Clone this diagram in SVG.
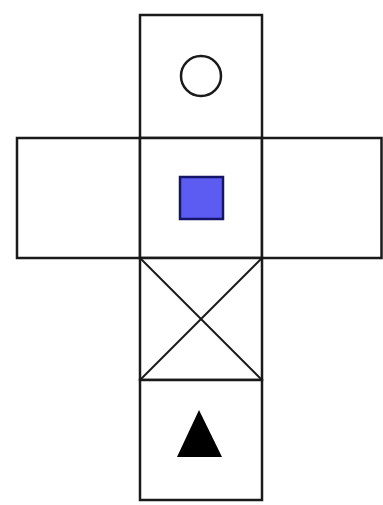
<svg xmlns="http://www.w3.org/2000/svg" width="383" height="505" viewBox="0 0 383 505">
<style>
.f{fill:#fff;stroke:#1a1a1a;stroke-width:2.5}
.l{stroke:#1a1a1a;stroke-width:2;fill:none}
</style>
<rect width="383" height="505" fill="#fff"/>
<g id="top"><rect class="f" x="140" y="15" width="122" height="123"/><circle cx="201" cy="76" r="20" fill="#fff" stroke="#1a1a1a" stroke-width="2.5"/></g>
<g id="left"><rect class="f" x="17" y="138" width="123" height="120"/></g>
<g id="center"><rect class="f" x="140" y="138" width="122" height="120"/><rect x="180" y="177" width="43" height="42" fill="#5c5cf2" stroke="#15156a" stroke-width="2.5"/></g>
<g id="right"><rect class="f" x="262" y="138" width="119.5" height="120"/></g>
<g id="cross"><rect class="f" x="140" y="258" width="122" height="122"/><line class="l" x1="140" y1="258" x2="262" y2="380"/><line class="l" x1="262" y1="258" x2="140" y2="380"/></g>
<g id="bottom"><rect class="f" x="140" y="380" width="122" height="120"/><polygon points="199,410 177,457 222,457" fill="#000"/></g>
<g id="connectors"/>
</svg>
